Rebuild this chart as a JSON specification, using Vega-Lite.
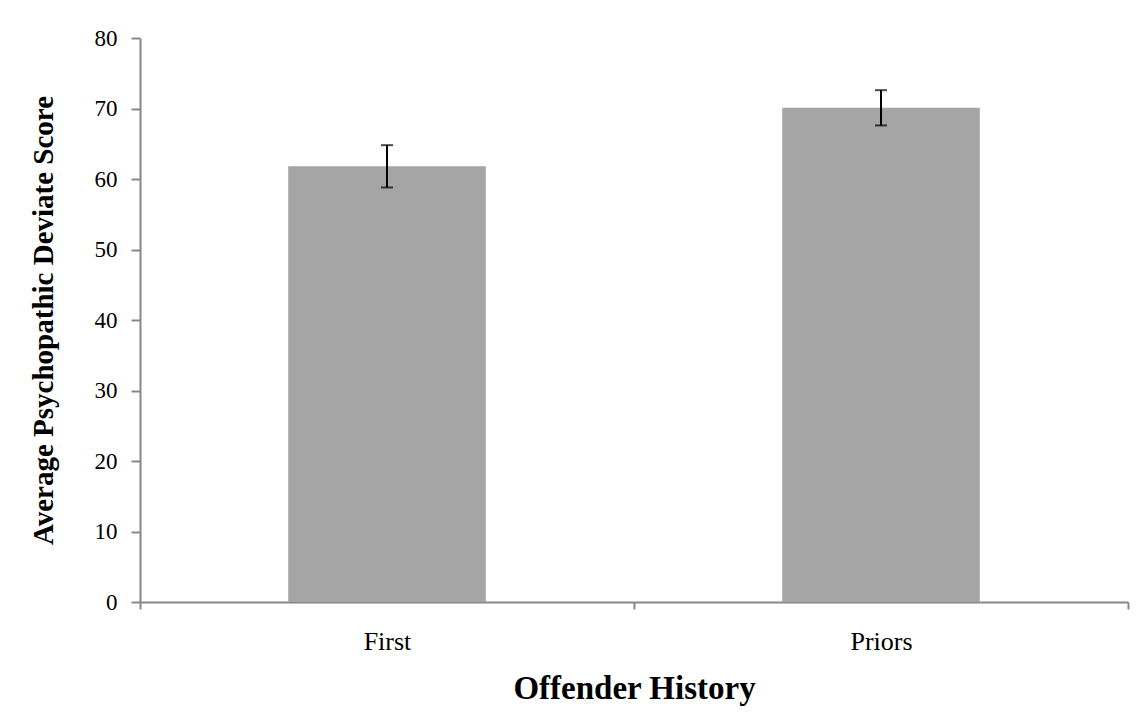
{
  "$schema": "https://vega.github.io/schema/vega-lite/v6.json",
  "autosize": {"type": "none"},
  "width": 988,
  "height": 564,
  "padding": {"left": 140, "top": 38, "right": 18, "bottom": 121},
  "background": "white",
  "data": {"values": [
    {"history": "First", "score": 61.8, "low": 58.8, "high": 64.8},
    {"history": "Priors", "score": 70.1, "low": 67.6, "high": 72.6}
  ]},
  "encoding": {
    "x": {
      "field": "history", "type": "nominal", "sort": null,
      "scale": {"paddingInner": 0, "paddingOuter": 0},
      "axis": {
        "title": "Offender History",
        "titleFont": "Liberation Serif", "titleFontSize": 33, "titleFontWeight": "bold", "titleColor": "black",
        "titlePadding": 18,
        "labelFont": "Liberation Serif", "labelFontSize": 26, "labelColor": "black", "labelAngle": 0,
        "labelPadding": 19,
        "tickBand": "extent", "tickSize": 7, "tickColor": "#888888", "tickWidth": 2,
        "domainColor": "#888888", "domainWidth": 2
      }
    }
  },
  "layer": [
    {
      "mark": {"type": "bar", "color": "#A5A5A5", "width": {"band": 0.4}},
      "encoding": {
        "y": {
          "field": "score", "type": "quantitative",
          "scale": {"domain": [0, 80], "nice": false},
          "axis": {
            "title": "Average Psychopathic Deviate Score",
            "titleFont": "Liberation Serif", "titleFontSize": 29, "titleFontWeight": "bold", "titleColor": "black",
            "titlePadding": 36,
            "values": [0, 10, 20, 30, 40, 50, 60, 70, 80],
            "labelFont": "Liberation Serif", "labelFontSize": 23, "labelColor": "black",
            "labelPadding": 14,
            "grid": false, "tickSize": 9, "tickColor": "#888888", "tickWidth": 2,
            "domainColor": "#888888", "domainWidth": 2
          }
        }
      }
    },
    {
      "mark": {"type": "rule", "color": "black", "strokeWidth": 2},
      "encoding": {
        "y": {"field": "low", "type": "quantitative"},
        "y2": {"field": "high"}
      }
    },
    {
      "mark": {"type": "tick", "color": "black", "thickness": 2, "size": 12},
      "encoding": {"y": {"field": "low", "type": "quantitative"}}
    },
    {
      "mark": {"type": "tick", "color": "black", "thickness": 2, "size": 12},
      "encoding": {"y": {"field": "high", "type": "quantitative"}}
    }
  ],
  "config": {"view": {"stroke": null}}
}
